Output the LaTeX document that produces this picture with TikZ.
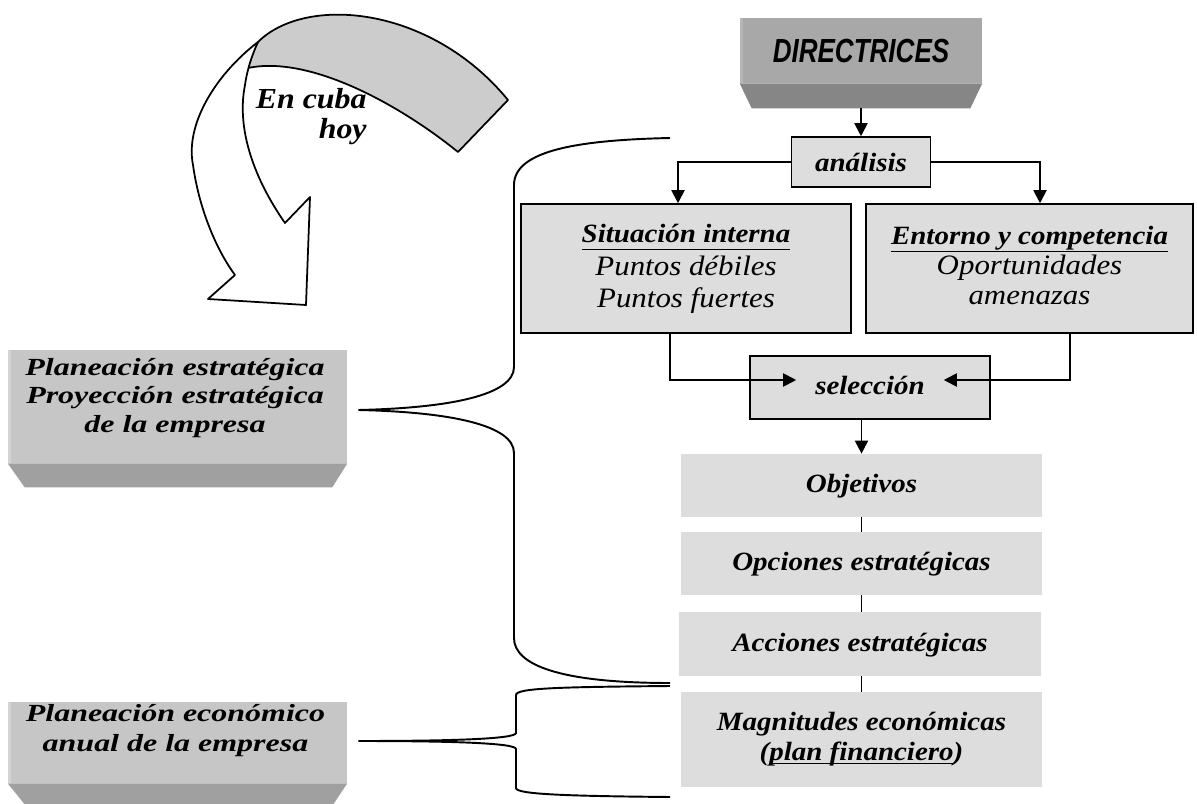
\documentclass[tikz,border=0pt]{standalone}
\usepackage{fontspec}
\setmainfont{Liberation Serif}
\newfontfamily\tnr{Liberation Serif}[FakeStretch=1.1]
\newfontfamily\tnrw{Liberation Serif}[FakeStretch=1.3]
\newfontfamily\arx{Liberation Sans}[FakeStretch=0.78]
\usetikzlibrary{arrows.meta}
\newcommand\myul[2]{\begingroup\setbox0\hbox{#2}\rlap{\rule[-#1]{\wd0}{0.7pt}}\box0\endgroup}
\definecolor{boxfill}{HTML}{DDDDDD}
\definecolor{leftface}{HTML}{C6C6C6}
\definecolor{leftlight}{HTML}{D4D4D4}
\definecolor{leftbevel}{HTML}{A0A0A0}
\definecolor{dirface}{HTML}{A8A8A8}
\definecolor{dirlight}{HTML}{B6B6B6}
\definecolor{dirbevel}{HTML}{868686}
\definecolor{band}{HTML}{CCCCCC}
\begin{document}
\begin{tikzpicture}[x=0.02cm, y=-0.02cm,
  arr/.style={line width=1.1pt, -{Triangle[length=2.6mm,width=2.6mm]}},
  ln/.style={line width=1.1pt},
  bracestyle/.style={line width=1.1pt},
  rbox/.style={draw, line width=0.9pt, fill=boxfill, inner sep=0pt},
  pbox/.style={fill=boxfill, inner sep=0pt},
  bi/.style={font=\tnr\bfseries\itshape\fontsize{15}{17}\selectfont},
  one/.style={text height=10pt, text depth=2pt},
  ltext/.style={inner sep=0pt, align=center},
  ribbon/.style={line width=1pt, line join=round}
]
\useasboundingbox (0,0) rectangle (1197,804);

% curved ribbon arrow "En cuba hoy"
\filldraw[ribbon, fill=band] (258,42) .. controls (305,-5) and (430,5) .. (508,100)
  -- (458,152) .. controls (400,105) and (310,55) .. (248,68)
  .. controls (250,58) and (254,48) .. (258,42) -- cycle;
\filldraw[ribbon, fill=white] (258,42) .. controls (215,75) and (185,125) .. (193,165)
  .. controls (200,215) and (220,255) .. (235,275) -- (208,299) -- (306,305) -- (310,197) -- (285,223)
  .. controls (255,180) and (236,130) .. (245,85)
  .. controls (247,70) and (252,55) .. (258,42) -- cycle;
\node[ltext, align=right, anchor=east, font=\tnr\bfseries\itshape\fontsize{16.5}{15.9}\selectfont] (cuba) at (367,117.4) {\strut En cuba\\hoy\strut};

% DIRECTRICES
\node[fill=dirface, inner sep=0pt, minimum width=4.84cm, minimum height=1.3cm,
  font=\arx\bfseries\itshape\fontsize{19}{20}\selectfont, text height=13.6pt, text depth=0pt] (dir) at (861,50.5) {DIRECTRICES};
\fill[dirlight] (dir.north west) rectangle ([xshift=0.06cm]dir.south west);
\fill[dirbevel] (dir.south west) -- (dir.south east) -- ([xshift=-0.24cm,yshift=-0.5cm]dir.south east) -- ([xshift=0.24cm,yshift=-0.5cm]dir.south west) -- cycle;

% analysis
\node[rbox, bi, minimum width=2.78cm, minimum height=1.0cm] (ana) at (861,162) {análisis};
\node[rbox, minimum width=6.6cm, minimum height=2.58cm, align=center,
  font=\tnr\itshape\fontsize{16}{18.7}\selectfont] (sit) at (686,268.5)
  {\strut{\bfseries\fontsize{15}{18.7}\selectfont\myul{4.3pt}{Situación interna}}\\Puntos débiles\\Puntos fuertes\strut};
\node[rbox, minimum width=6.54cm, minimum height=2.58cm, align=center,
  font=\tnr\itshape\fontsize{16}{17.3}\selectfont] (ent) at (1029.5,268.5)
  {\strut{\bfseries\fontsize{15}{17.3}\selectfont\myul{4.3pt}{Entorno y competencia}}\\Oportunidades\\amenazas\strut};
\node[rbox, bi, one, minimum width=4.8cm, minimum height=1.26cm] (sel) at (870,387.5) {selección};

\node[pbox, bi, one, minimum width=7.22cm, minimum height=1.26cm] (obj) at (861.5,485.5) {Objetivos};
\node[pbox, bi, one, minimum width=7.22cm, minimum height=1.26cm] (opc) at (861.5,563.5) {Opciones estratégicas};
\node[pbox, bi, one, minimum width=7.24cm, minimum height=1.28cm] (acc) at (860,644) {Acciones estratégicas};
\node[pbox, bi, align=center, minimum width=7.22cm, minimum height=1.9cm] (mag) at (861.5,739.5)
  {\strut Magnitudes económicas\\(\myul{2pt}{plan financiero})\strut};

% left boxes
\node[fill=leftface, inner sep=0pt, minimum width=6.78cm, minimum height=2.26cm] (pe) at (177.5,406.5) {};
\fill[leftlight] (pe.north west) rectangle ([xshift=0.06cm]pe.south west);
\fill[leftbevel] (pe.south west) -- (pe.south east) -- ([xshift=-0.3cm,yshift=-0.48cm]pe.south east) -- ([xshift=0.34cm,yshift=-0.48cm]pe.south west) -- cycle;
\node[ltext, font=\tnrw\bfseries\itshape\fontsize{14}{16.4}\selectfont] (pet) at (175,398.2)
  {\strut Planeación estratégica\\Proyección estratégica\\de la empresa\strut};

\node[fill=leftface, inner sep=0pt, minimum width=6.78cm, minimum height=1.62cm] (pa) at (177.5,742.5) {};
\fill[leftlight] (pa.north west) rectangle ([xshift=0.06cm]pa.south west);
\fill[leftbevel] (pa.south west) -- (pa.south east) -- ([xshift=-0.28cm,yshift=-0.42cm]pa.south east) -- ([xshift=0.34cm,yshift=-0.42cm]pa.south west) -- cycle;
\node[ltext, font=\tnrw\bfseries\itshape\fontsize{14}{17}\selectfont] (pat) at (175.5,730.7)
  {\strut Planeación económico\\anual de la empresa\strut};

% connectors
\draw[arr] ([yshift=-0.5cm]dir.south) -- (ana.north);
\draw[arr] (ana.west) -| ([xshift=-0.16cm]sit.north);
\draw[arr] (ana.east) -| ([xshift=0.21cm]ent.north);
\draw[arr] ([xshift=-0.32cm]sit.south) |- ([xshift=0.94cm,yshift=0.15cm]sel.west);
\draw[arr] ([xshift=0.81cm]ent.south) |- ([xshift=-0.94cm,yshift=0.15cm]sel.east);
\draw[arr] (sel.south -| obj.north) -- (obj.north);
\draw[ln] (obj.south) -- (opc.north);
\draw[ln] (opc.south) -- (opc.south |- acc.north);
\draw[ln] (opc.south |- acc.south) -- (opc.south |- mag.north);

% braces
\coordinate (b1) at ([xshift=0.22cm,yshift=-0.07cm]pe.east);
\draw[bracestyle] (670,138) .. controls (580,140) and (514,150) .. (514,185)
  -- (514,367) .. controls (514,395) and (450,408) .. (b1)
  .. controls (450,412) and (514,425) .. (514,453)
  -- (514,638) .. controls (514,665) and (560,683) .. (670,683);
\coordinate (b2) at ([xshift=0.22cm,yshift=0.03cm]pa.east);
\draw[bracestyle] (670,686) .. controls (560,687) and (516,688) .. (516,695)
  -- (516,733) .. controls (516,739) and (450,741) .. (b2)
  .. controls (450,741) and (516,743) .. (516,749)
  -- (516,788) .. controls (516,794) and (560,796) .. (670,797);
\end{tikzpicture}
\end{document}
